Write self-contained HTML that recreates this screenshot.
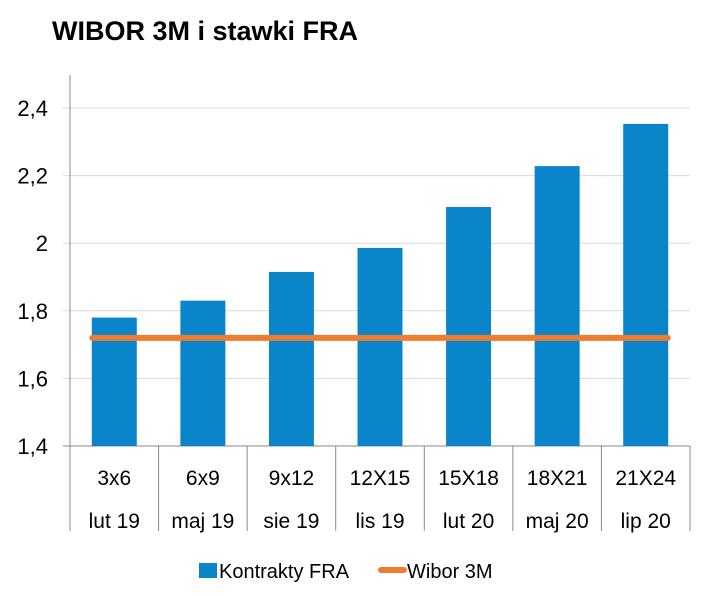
<!DOCTYPE html>
<html><head><meta charset="utf-8">
<style>
body{margin:0;background:#fff;width:702px;height:591px;overflow:hidden;font-family:"Liberation Sans",Verdana,sans-serif;}
</style></head>
<body>
<svg width="702" height="591" xmlns="http://www.w3.org/2000/svg" id="chart">
<text x="52" y="40" font-size="27" font-weight="bold" fill="#000">WIBOR 3M i stawki FRA</text>
</svg>
<script>
const categories=["3x6","6x9","9x12","12X15","15X18","18X21","21X24"];
const dates=["lut 19","maj 19","sie 19","lis 19","lut 20","maj 20","lip 20"];
const fraValues=[1.78,1.83,1.915,1.986,2.107,2.228,2.353];
const wiborValues=[1.72,1.72,1.72,1.72,1.72,1.72,1.72];
const yTicks=[1.4,1.6,1.8,2,2.2,2.4];
const yTickLabels=["1,4","1,6","1,8","2","2,2","2,4"];
const svg=document.getElementById('chart');
const NS="http://www.w3.org/2000/svg";
const X0=70,X1=690,Y0=446,YT=108,ymin=1.4,ymax=2.4;
const bw=(X1-X0)/categories.length;
const y=v=>Y0-(v-ymin)/(ymax-ymin)*(Y0-YT);
const xc=i=>X0+bw*(i+0.5);
function el(t,a){const e=document.createElementNS(NS,t);for(const k in a)e.setAttribute(k,a[k]);svg.appendChild(e);return e;}
yTicks.forEach((v,i)=>{
 const g=el('line',{x1:63,x2:X1,y1:y(v),y2:y(v),stroke:i===0?'#888':'#d9d9d9','stroke-width':1});
 
 
 const t=el('text',{x:48,y:y(v)+8,'font-size':22,'text-anchor':'end',fill:'#000'});
 t.textContent=yTickLabels[i];
 
 
});
const ax=el('line',{x1:X0,x2:X0,y1:75,y2:531,stroke:'#888'});


categories.forEach((c,i)=>{
 const sep=el('line',{x1:X0+bw*(i+1),x2:X0+bw*(i+1),y1:Y0,y2:531,stroke:'#888'});
 
 
 const b=el('rect',{x:xc(i)-22.5,y:y(fraValues[i]),width:45,height:Y0-y(fraValues[i]),fill:'#0a85c9'});
 
 
 const t=el('text',{x:xc(i),y:485,'font-size':21,'text-anchor':'middle',fill:'#000'});
 t.textContent=c;
 
 
 const d=el('text',{x:xc(i),y:528,'font-size':21,'text-anchor':'middle',fill:'#000'});
 d.textContent=dates[i];
 
 
});
const pts=wiborValues.map((v,i)=>(i===0?xc(i)-22:i===wiborValues.length-1?xc(i)+22:xc(i))+','+y(v)).join(' ');
const ln=el('polyline',{points:pts,fill:'none',stroke:'#ed7d31','stroke-width':6,'stroke-linecap':'round'});


const l1=el('rect',{x:199,y:563,width:18,height:15,fill:'#0a85c9'});


const lt1=el('text',{x:219,y:578,'font-size':20,fill:'#000'});lt1.textContent='Kontrakty FRA';


const l2=el('line',{x1:381,x2:404,y1:570,y2:570,stroke:'#ed7d31','stroke-width':6,'stroke-linecap':'round'});


const lt2=el('text',{x:407,y:578,'font-size':20,fill:'#000'});lt2.textContent='Wibor 3M';


</script>
</body></html>
